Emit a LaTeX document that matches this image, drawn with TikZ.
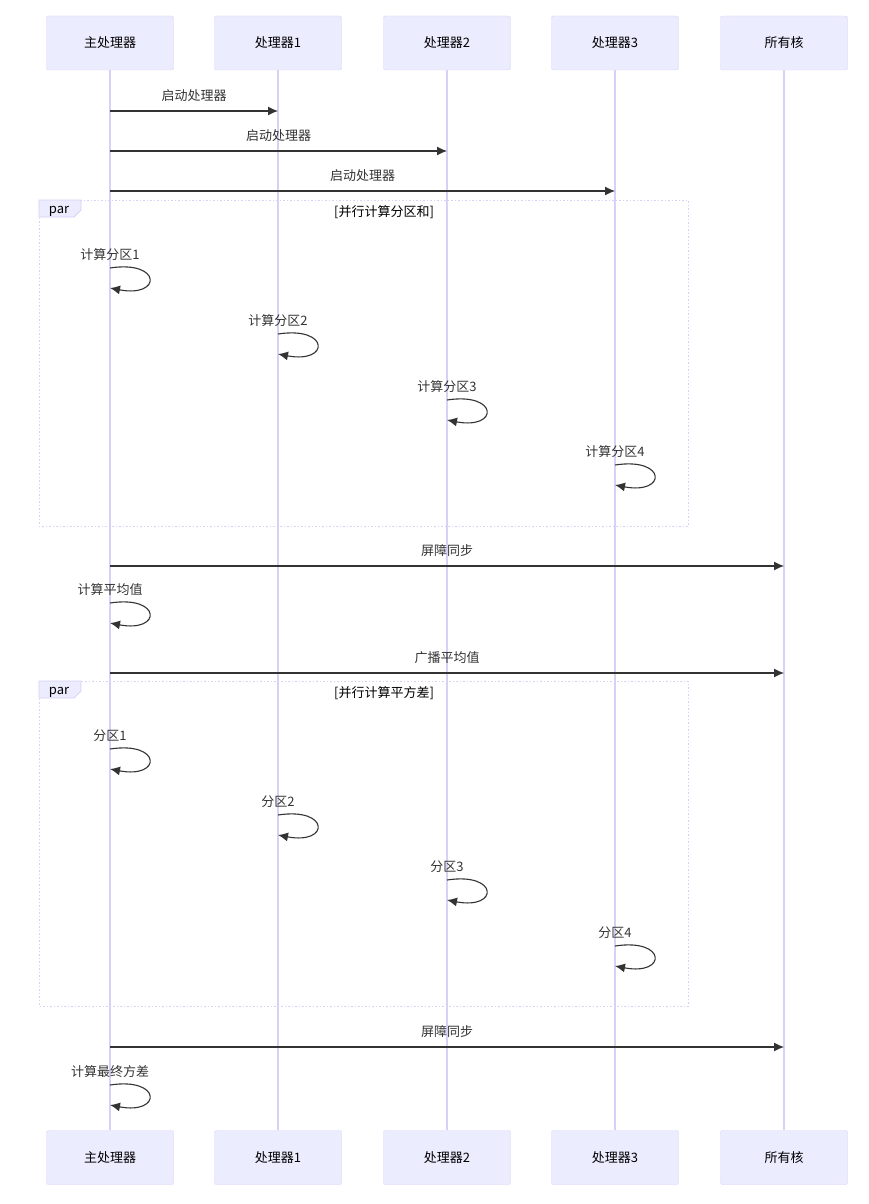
\documentclass[tikz,border=0pt]{standalone}
\usepackage{fontspec}
\setmainfont{Noto Sans CJK SC}
\usetikzlibrary{arrows.meta}
\definecolor{actfill}{HTML}{ECECFF}
\definecolor{actline}{HTML}{D8D0F6}
\definecolor{ink}{HTML}{333333}

\begin{document}
\begin{tikzpicture}[x=1pt, y=-1pt,
		actor/.style={draw=actline, fill=actfill, rounded corners=2pt, minimum width=127pt, minimum height=54pt, font=\fontsize{13}{15}\selectfont, text=black},
		life/.style={draw=actline, line width=1.6pt},
		msg/.style={draw=ink, line width=1.1pt, -{Latex[length=10pt, width=9pt]}},
		lbl/.style={font=\fontsize{13}{15}\selectfont, text=ink},
		parframe/.style={draw=actline, line width=1pt, dash pattern=on 1.5pt off 2pt}]
		\useasboundingbox (0, 0) rectangle (868, 1204);
		
		\foreach \x/\name [count=\i] in {110/主处理器, 278/处理器1, 447/处理器2, 615/处理器3, 784/所有核} {
			\node[actor] (t\i) at (\x, 43) {\name};
			\node[actor] (b\i) at (\x, 1157.5) {\name};
			\draw[life] (t\i) -- (b\i);
		}
		
		\foreach \y/\yb/\txt [count=\k] in {200/526/{[并行计算分区和]}, 681/1006/{[并行计算平方差]}} {
			\draw[parframe] (39, \y) rectangle (688, \yb);
			\filldraw[fill=actfill, draw=actline, line width=0.8pt] (39, \y) -- (81, \y) -- (81, \y+10) -- (74, \y+17) -- (39, \y+17) -- cycle;
			\node[lbl, text=black] (tab\k) at (59, \y+11) {par};
			\node[lbl, text=black] (title\k) at (384, \y+12) {\txt};
		}
		
		\foreach \y/\j/\txt [count=\k] in {111/2/启动处理器, 151/3/启动处理器, 191/4/启动处理器, 566/5/屏障同步, 673/5/广播平均值, 1047/5/屏障同步} {
			\coordinate (ms\k) at (t1 |- 0, \y);
			\coordinate (me\k) at (t\j |- 0, \y);
			\draw[msg] (ms\k) -- node[lbl, midway, yshift=15pt] {\txt} (me\k);
		}
		
		\foreach \i/\y/\txt [count=\k, evaluate=\y as \ye using \y+20] in {1/268/计算分区1, 2/334/计算分区2, 3/400/计算分区3, 4/465/计算分区4, 1/603/计算平均值, 1/749/分区1, 2/815/分区2, 3/880/分区3, 4/946/分区4, 1/1085/计算最终方差} {
			\coordinate (ls\k) at (t\i |- 0, \y);
			\coordinate (le\k) at (t\i |- 0, \ye);
			\node[lbl] (ll\k) at ([yshift=13pt]ls\k) {\txt};
			\draw[msg] (ls\k) .. controls +(52, -8) and +(52, 10) .. (le\k);
		}
\end{tikzpicture}
\end{document}
